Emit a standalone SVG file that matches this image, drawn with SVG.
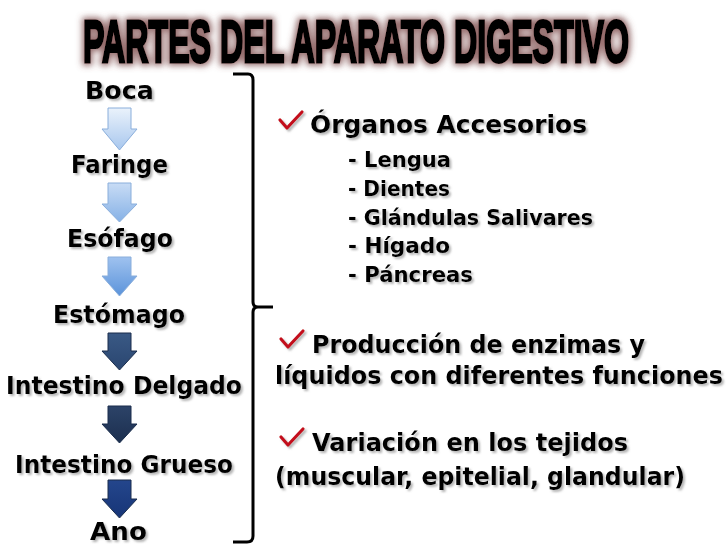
<svg xmlns="http://www.w3.org/2000/svg" width="728" height="546" viewBox="0 0 728 546">
  <defs>
    <filter id="glow" x="-5%" y="-40%" width="110%" height="180%">
      <feMorphology in="SourceAlpha" operator="dilate" radius="2" result="d"/>
      <feGaussianBlur in="d" stdDeviation="3" result="b"/>
      <feFlood flood-color="#7a4848" flood-opacity="0.8"/>
      <feComposite in2="b" operator="in" result="g"/>
      <feMerge><feMergeNode in="g"/><feMergeNode in="SourceGraphic"/></feMerge>
    </filter>
    <filter id="shadow" x="-10%" y="-30%" width="120%" height="160%">
      <feGaussianBlur in="SourceAlpha" stdDeviation="1.2" result="b"/>
      <feOffset in="b" dx="2" dy="2" result="o"/>
      <feFlood flood-color="#777" flood-opacity="0.55"/>
      <feComposite in2="o" operator="in" result="s"/>
      <feMerge><feMergeNode in="s"/><feMergeNode in="SourceGraphic"/></feMerge>
    </filter>
    <linearGradient id="a1" x1="0" y1="0" x2="0" y2="1"><stop offset="0" stop-color="#eaf2fb"/><stop offset="1" stop-color="#a8c7ee"/></linearGradient>
    <linearGradient id="a2" x1="0" y1="0" x2="0" y2="1"><stop offset="0" stop-color="#c8dcf5"/><stop offset="1" stop-color="#86b1e6"/></linearGradient>
    <linearGradient id="a3" x1="0" y1="0" x2="0" y2="1"><stop offset="0" stop-color="#9fc2ef"/><stop offset="1" stop-color="#5b93da"/></linearGradient>
    <linearGradient id="a4" x1="0" y1="0" x2="0" y2="1"><stop offset="0" stop-color="#3a5985"/><stop offset="1" stop-color="#2a4670"/></linearGradient>
    <linearGradient id="a5" x1="0" y1="0" x2="0" y2="1"><stop offset="0" stop-color="#2c4368"/><stop offset="1" stop-color="#1c2f4f"/></linearGradient>
    <linearGradient id="a6" x1="0" y1="0" x2="0" y2="1"><stop offset="0" stop-color="#24468c"/><stop offset="1" stop-color="#173577"/></linearGradient>
  </defs>
  <style>
    .lbl { font-family: "DejaVu Sans", "Liberation Sans", sans-serif; font-weight: bold; font-size: 24.5px; fill: #000; }
    .hd { font-family: "DejaVu Sans", "Liberation Sans", sans-serif; font-weight: bold; font-size: 24px; fill: #000; }
    .sub { font-family: "DejaVu Sans", "Liberation Sans", sans-serif; font-weight: bold; font-size: 20.5px; fill: #000; }
    .title { font-family: "Liberation Sans", "DejaVu Sans", sans-serif; font-weight: bold; font-size: 60px; fill: #000; stroke: #000; stroke-width: 3; }
    .chk { fill: none; stroke: #c3111b; stroke-width: 3.2; stroke-linecap: round; stroke-linejoin: round; }
    .arr { stroke-width: 1; }
    .light { stroke: #8aaedb; }
    .dark { stroke: #1a2d4c; }
    .brace { fill: none; stroke: #000; stroke-width: 3; }
  </style>

  <rect width="728" height="546" fill="#fff"/>

  <g id="title" filter="url(#glow)">
    <text class="title" transform="translate(83,62) scale(0.536,1)" x="0" y="0">PARTES DEL APARATO DIGESTIVO</text>
  </g>

  <g id="connectors">
    <path class="arr light" fill="url(#a1)" d="M108,108 H131 V129 H137 L119.5,150 L102,129 H108 Z"/>
    <path class="arr light" fill="url(#a2)" d="M108,183 H131 V204 H137 L119.5,222 L102,204 H108 Z"/>
    <path class="arr light" fill="url(#a3)" d="M108,257 H131 V276 H137 L119.5,296 L102,276 H108 Z"/>
    <path class="arr dark" fill="url(#a4)" d="M108,333 H131 V351 H137 L119.5,370 L102,351 H108 Z"/>
    <path class="arr dark" fill="url(#a5)" d="M108,406 H131 V424 H137 L119.5,443 L102,424 H108 Z"/>
    <path class="arr dark" fill="url(#a6)" d="M108,480 H131 V499 H137 L119.5,518 L102,499 H108 Z"/>
  </g>

  <g id="boca" filter="url(#shadow)"><text class="lbl" x="85" y="99" textLength="69" lengthAdjust="spacingAndGlyphs">Boca</text></g>
  <g id="faringe" filter="url(#shadow)"><text class="lbl" x="71" y="173" textLength="97" lengthAdjust="spacingAndGlyphs">Faringe</text></g>
  <g id="esofago" filter="url(#shadow)"><text class="lbl" x="67" y="247" textLength="106" lengthAdjust="spacingAndGlyphs">Esófago</text></g>
  <g id="estomago" filter="url(#shadow)"><text class="lbl" x="53" y="323" textLength="132" lengthAdjust="spacingAndGlyphs">Estómago</text></g>
  <g id="intestino-delgado" filter="url(#shadow)"><text class="lbl" x="6" y="394" textLength="236" lengthAdjust="spacingAndGlyphs">Intestino Delgado</text></g>
  <g id="intestino-grueso" filter="url(#shadow)"><text class="lbl" x="15" y="473" textLength="218" lengthAdjust="spacingAndGlyphs">Intestino Grueso</text></g>
  <g id="ano" filter="url(#shadow)"><text class="lbl" x="90" y="540" textLength="57" lengthAdjust="spacingAndGlyphs">Ano</text></g>

  <g id="brace">
    <path class="brace" d="M233,74 H248 Q253,74 253,80 V302 Q253,307 258,307 H273 M258,307 Q253,307 253,312 V536 Q253,542 247,542 H233"/>
  </g>

  <g id="organos-accesorios" filter="url(#shadow)">
    <path class="chk" d="M280,120 L287,128 L302,112"/>
    <text class="hd" x="310" y="133" textLength="277" lengthAdjust="spacingAndGlyphs">Órganos Accesorios</text>
    <text class="sub" x="348" y="167" textLength="103" lengthAdjust="spacingAndGlyphs">- Lengua</text>
    <text class="sub" x="348" y="196" textLength="102" lengthAdjust="spacingAndGlyphs">- Dientes</text>
    <text class="sub" x="348" y="225" textLength="245" lengthAdjust="spacingAndGlyphs">- Glándulas Salivares</text>
    <text class="sub" x="348" y="253" textLength="102" lengthAdjust="spacingAndGlyphs">- Hígado</text>
    <text class="sub" x="348" y="282" textLength="125" lengthAdjust="spacingAndGlyphs">- Páncreas</text>
  </g>

  <g id="produccion" filter="url(#shadow)">
    <path class="chk" d="M281,339 L288,347 L303,331"/>
    <text class="hd" x="312" y="353" textLength="333" lengthAdjust="spacingAndGlyphs">Producción de enzimas y</text>
    <text class="hd" x="275" y="384" textLength="448" lengthAdjust="spacingAndGlyphs">líquidos con diferentes funciones</text>
  </g>

  <g id="variacion" filter="url(#shadow)">
    <path class="chk" d="M281,437 L288,445 L303,429"/>
    <text class="hd" x="312" y="451" textLength="316" lengthAdjust="spacingAndGlyphs">Variación en los tejidos</text>
    <text class="hd" x="275" y="485" textLength="410" lengthAdjust="spacingAndGlyphs">(muscular, epitelial, glandular)</text>
  </g>
</svg>
